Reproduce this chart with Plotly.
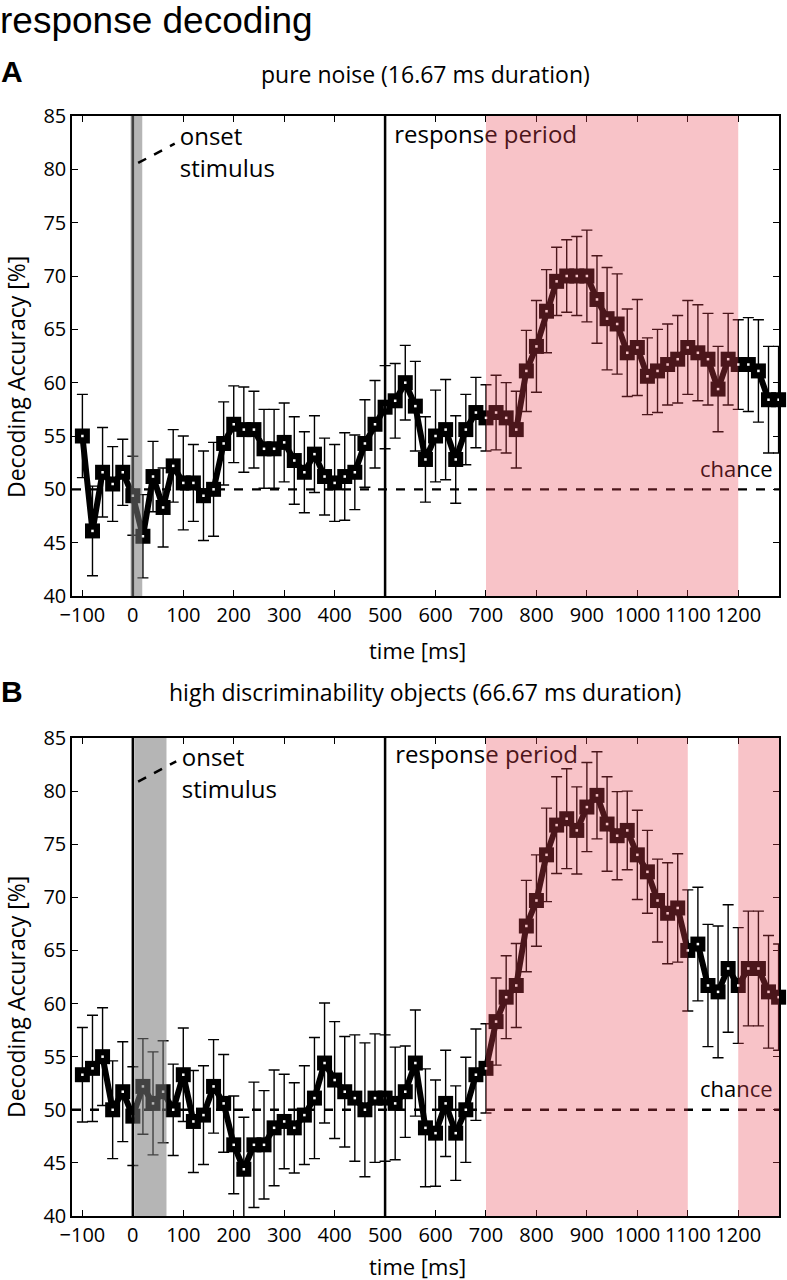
import plotly.graph_objects as go

# ---------------- data ----------------
time_ms = [-100, -80, -60, -40, -20, 0, 20, 40, 60, 80, 100, 120, 140, 160, 180,
           200, 220, 240, 260, 280, 300, 320, 340, 360, 380, 400, 420, 440, 460, 480,
           500, 520, 540, 560, 580, 600, 620, 640, 660, 680, 700, 720, 740, 760, 780,
           800, 820, 840, 860, 880, 900, 920, 940, 960, 980, 1000, 1020, 1040, 1060, 1080,
           1100, 1120, 1140, 1160, 1180, 1200, 1220, 1240, 1260, 1280]

acc_a = [55.0, 46.1, 51.6, 50.5, 51.6, 49.4, 45.6, 51.2, 48.3, 52.2, 50.6, 50.6, 49.4, 50.0, 54.3,
         56.1, 55.6, 55.6, 53.8, 53.8, 54.4, 52.7, 51.6, 53.3, 51.2, 50.6, 51.2, 51.6, 54.3, 56.1,
         57.7, 58.3, 60.0, 57.8, 52.8, 55.0, 55.6, 52.8, 55.6, 57.2, 56.7, 57.2, 56.7, 55.6, 61.1,
         63.4, 66.7, 69.5, 70.0, 70.0, 70.0, 67.8, 66.0, 65.5, 62.8, 63.3, 60.6, 61.1, 61.7, 62.2,
         63.3, 62.8, 62.2, 59.4, 62.2, 61.7, 61.7, 61.1, 58.4, 58.4]
err_a = [3.9, 4.2, 4.2, 3.5, 3.1, 3.7, 3.9, 3.3, 3.7, 3.4, 4.4, 3.6, 4.2, 4.4, 3.9,
         3.6, 4.0, 3.6, 3.7, 3.7, 3.7, 4.1, 3.8, 3.6, 3.6, 3.6, 4.1, 3.5, 4.1, 4.1,
         3.9, 3.5, 3.5, 4.2, 4.0, 4.3, 4.7, 4.1, 3.3, 3.3, 3.1, 3.5, 3.3, 3.6, 3.8,
         4.3, 3.9, 3.2, 3.4, 3.7, 4.3, 4.1, 4.8, 4.7, 4.1, 4.5, 3.6, 3.9, 3.8, 4.1,
         4.4, 4.5, 4.3, 4.0, 4.3, 4.2, 4.4, 4.8, 5.0, 5.0]

acc_b = [53.3, 53.9, 55.0, 50.0, 51.7, 49.4, 52.2, 50.6, 51.7, 50.0, 53.3, 48.9, 49.5, 52.2, 50.6,
         46.7, 44.4, 46.7, 46.7, 48.3, 48.9, 48.3, 49.5, 51.1, 54.4, 52.8, 51.7, 51.1, 50.0, 51.1,
         51.1, 50.6, 51.7, 54.4, 48.3, 47.8, 50.6, 47.8, 50.0, 53.3, 53.9, 58.3, 60.6, 61.7, 67.3,
         69.7, 74.0, 76.8, 77.4, 76.3, 78.5, 79.6, 76.9, 75.8, 76.3, 74.0, 72.4, 69.7, 68.5, 69.0,
         65.0, 65.6, 61.7, 61.1, 63.3, 61.7, 63.3, 63.3, 61.1, 60.6]
err_b = [4.45, 5.0, 4.6, 4.6, 4.7, 4.65, 4.5, 4.85, 4.8, 4.3, 4.4, 4.8, 4.65, 4.4, 4.6,
         4.6, 4.9, 5.9, 5.1, 5.45, 4.45, 4.25, 4.65, 5.7, 5.65, 5.5, 5.2, 5.95, 6.3, 6.05,
         5.95, 5.3, 4.3, 5.0, 5.55, 5.0, 5.0, 4.45, 4.95, 4.3, 4.2, 4.1, 3.9, 3.95, 4.3,
         4.3, 4.4, 4.55, 4.7, 4.1, 4.2, 4.1, 4.45, 4.15, 3.7, 4.2, 3.9, 3.9, 4.75, 5.1,
         5.7, 5.35, 5.75, 6.2, 6.0, 5.45, 5.4, 5.4, 5.3, 5.0]

x_ticks = [-100, 0, 100, 200, 300, 400, 500, 600, 700, 800, 900, 1000, 1100, 1200]
y_ticks = [40, 45, 50, 55, 60, 65, 70, 75, 80, 85]

titles = ["pure noise (16.67 ms duration)",
          "high discriminability objects (66.67 ms duration)"]
panel_letters = ["A", "B"]
onset_duration = [16.67, 66.67]
response_periods = [[(700, 1200)], [(700, 1100), (1200, 1290)]]
chance_level = 50

# ---------------- style ----------------
FONT = "Open Sans"
X_RANGE = [-120.6, 1280.8]
Y_RANGE = [40, 85]
PINK = "rgba(234,69,84,0.32)"
GREY = "rgba(120,120,120,0.55)"

fig = go.Figure()

panels = [
    dict(acc=acc_a, err=err_a, xa="x", ya="y", xref="x", yref="y"),
    dict(acc=acc_b, err=err_b, xa="x2", ya="y2", xref="x2", yref="y2"),
]

text_pos = [
    dict(onset=(93, 82.8), stim=(93, 79.8), resp=(518, 83.0), chance=(1268, 51.65),
         ptr=((10.5, 80.6), (83, 82.4))),
    dict(onset=(97, 82.9), stim=(97, 79.9), resp=(520, 83.2), chance=(1268, 51.7),
         ptr=((10.5, 80.9), (86, 82.8))),
]

shapes = []
for i, p in enumerate(panels):
    xa, ya = p["xa"], p["ya"]
    tp = text_pos[i]
    # text labels (as traces so the shading tints them)
    fig.add_trace(go.Scatter(
        x=[tp["onset"][0], tp["stim"][0], tp["resp"][0]],
        y=[tp["onset"][1], tp["stim"][1], tp["resp"][1]],
        mode="text", text=["onset", "stimulus", "response period"],
        textposition="middle right",
        textfont=dict(family=FONT, size=24, color="black"),
        xaxis=xa, yaxis=ya, showlegend=False, hoverinfo="skip", cliponaxis=False))
    fig.add_trace(go.Scatter(
        x=[tp["chance"][0]], y=[tp["chance"][1]],
        mode="text", text=["chance"], textposition="middle left",
        textfont=dict(family=FONT, size=22, color="black"),
        xaxis=xa, yaxis=ya, showlegend=False, hoverinfo="skip", cliponaxis=False))
    # data: line + markers + error bars
    fig.add_trace(go.Scatter(
        x=time_ms, y=p["acc"], mode="lines+markers",
        line=dict(color="black", width=6),
        marker=dict(symbol="square", size=15, color="black", line=dict(width=0)),
        error_y=dict(type="data", array=p["err"], visible=True,
                     color="black", thickness=1.4, width=5.5),
        xaxis=xa, yaxis=ya, showlegend=False, cliponaxis=False))
    fig.add_trace(go.Scatter(
        x=time_ms, y=p["acc"], mode="markers",
        marker=dict(symbol="square", size=2.5, color="white", line=dict(width=0)),
        xaxis=xa, yaxis=ya, showlegend=False, cliponaxis=False, hoverinfo="skip"))

    xr, yr = p["xref"], p["yref"]
    # chance dashed line
    shapes.append(dict(type="line", xref=xr, yref=yr, x0=X_RANGE[0], x1=X_RANGE[1],
                       y0=chance_level, y1=chance_level, layer="below",
                       line=dict(color="black", width=2.4, dash="dash")))
    # vertical lines at onset and 500 ms
    for xv in (0, 500):
        shapes.append(dict(type="line", xref=xr, yref=yr, x0=xv, x1=xv,
                           y0=Y_RANGE[0], y1=Y_RANGE[1],
                           layer="below" if (i == 0 and xv == 0) else "above",
                           line=dict(color="black", width=2.5)))
    # onset grey band
    if i == 0:
        g0, g1 = -4.5, onset_duration[i] + 2
    else:
        g0, g1 = 3, onset_duration[i]
    shapes.append(dict(type="rect", xref=xr, yref=yr, x0=g0, x1=g1,
                       y0=Y_RANGE[0], y1=Y_RANGE[1], layer="above",
                       fillcolor=GREY, line=dict(width=0)))
    # dashed pointer
    (px0, py0), (px1, py1) = tp["ptr"]
    shapes.append(dict(type="line", xref=xr, yref=yr, x0=px0, y0=py0, x1=px1, y1=py1,
                       layer="above", line=dict(color="black", width=2.5, dash="dash")))
    # response period shading
    for (r0, r1) in response_periods[i]:
        shapes.append(dict(type="rect", xref=xr, yref=yr, x0=r0, x1=min(r1, X_RANGE[1]),
                           y0=Y_RANGE[0], y1=Y_RANGE[1], layer="above",
                           fillcolor=PINK, line=dict(width=0)))

axis_common = dict(showline=True, linecolor="black", linewidth=1.5, mirror="ticks",
                   ticks="inside", ticklen=6, tickwidth=1.3, tickcolor="black",
                   showgrid=False, zeroline=False, automargin=False,
                   tickfont=dict(family=FONT, size=20, color="black"))

# plot area geometry: left 72, right 779; A: 116-596, B: 738-1216
H, W = 1280, 787
m_l, m_r, m_t, m_b = 72, W - 779, 116, H - 1216
ph = H - m_t - m_b
dom_a = [(1216 - 596) / ph, 1.0]
dom_b = [0.0, (1216 - 738) / ph]

fig.update_layout(
    width=W, height=H,
    margin=dict(l=m_l, r=m_r, t=m_t, b=m_b),
    paper_bgcolor="white", plot_bgcolor="white",
    showlegend=False,
    shapes=shapes,
    xaxis=dict(domain=[0, 1], range=X_RANGE, tickvals=x_ticks, anchor="y", **axis_common),
    yaxis=dict(domain=dom_a, range=Y_RANGE, tickvals=y_ticks, anchor="x", **axis_common),
    xaxis2=dict(domain=[0, 1], range=X_RANGE, tickvals=x_ticks, anchor="y2", **axis_common),
    yaxis2=dict(domain=dom_b, range=Y_RANGE, tickvals=y_ticks, anchor="x2", **axis_common),
)

pw = W - m_l - m_r


def px_x(px):
    return (px - m_l) / pw


def px_y(py):
    return (1216 - py) / ph


ann = []
ann.append(dict(text="response decoding", x=px_x(-2), y=px_y(21), xref="paper", yref="paper",
                xanchor="left", yanchor="middle", showarrow=False,
                font=dict(family="Liberation Sans", size=37, color="black")))
for i, (ty, ly, xt_y, yt_y) in enumerate([(74, 72, 650, 377), (692, 691, 1266, 997)]):
    ann.append(dict(text="<b>%s</b>" % panel_letters[i], x=px_x(-1), y=px_y(ly),
                    xref="paper", yref="paper", xanchor="left", yanchor="middle",
                    showarrow=False, font=dict(family="Liberation Sans", size=30, color="black")))
    ann.append(dict(text=titles[i], x=px_x(425), y=px_y(ty), xref="paper", yref="paper",
                    xanchor="center", yanchor="middle", showarrow=False,
                    font=dict(family=FONT, size=23, color="black")))
    ann.append(dict(text="time [ms]", x=px_x(417), y=px_y(xt_y), xref="paper", yref="paper",
                    xanchor="center", yanchor="middle", showarrow=False,
                    font=dict(family=FONT, size=22, color="black")))
    ann.append(dict(text="Decoding Accuracy [%]", x=px_x(16), y=px_y(yt_y), xref="paper",
                    yref="paper", xanchor="center", yanchor="middle", textangle=-90,
                    showarrow=False, font=dict(family=FONT, size=23, color="black")))
fig.update_layout(annotations=ann)

fig.write_html("out.html",
               config={"displayModeBar": False},
               post_script="document.body.style.margin='0px';"
                           "document.body.style.overflow='hidden';")
